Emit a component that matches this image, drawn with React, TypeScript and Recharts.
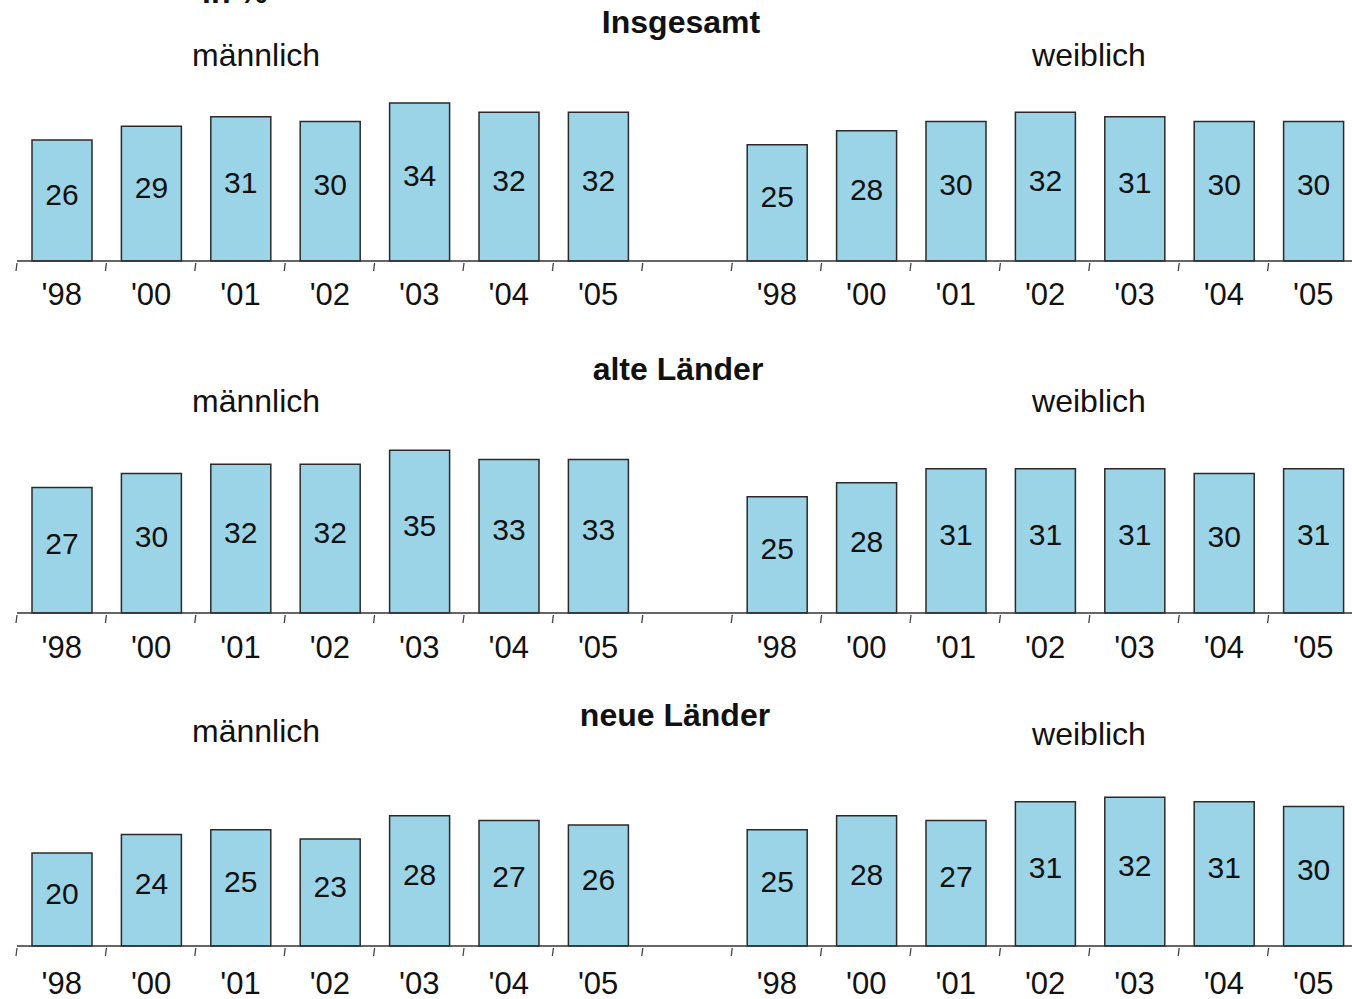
import { BarChart, Bar, XAxis, YAxis, LabelList } from 'recharts';

const years = ["'98", "'00", "'01", "'02", "'03", "'04", "'05"];

const insgesamtMaennlich = [26, 29, 31, 30, 34, 32, 32];
const insgesamtWeiblich = [25, 28, 30, 32, 31, 30, 30];
const alteMaennlich = [27, 30, 32, 32, 35, 33, 33];
const alteWeiblich = [25, 28, 31, 31, 31, 30, 31];
const neueMaennlich = [20, 24, 25, 23, 28, 27, 26];
const neueWeiblich = [25, 28, 27, 31, 32, 31, 30];

const FONT = '"Liberation Sans", Arial, sans-serif';
const CHART_W = 1360;
const MARGIN_L = 17;
const MARGIN_R = 2;
const SLOTS = 15;
const BAND = (CHART_W - MARGIN_L - MARGIN_R) / SLOTS;

// 7 male years, an empty slot, 7 female years
const buildRows = (m: number[], w: number[]) => [
    ...years.map((y, i) => ({ slot: `m${i}`, year: y, value: m[i] })),
    { slot: 'gap', year: '', value: null },
    ...years.map((y, i) => ({ slot: `w${i}`, year: y, value: w[i] })),
];

const yearOf = (slot: string) => {
    if (slot === 'gap') return '';
    return years[Number(slot.slice(1))];
};

const makeTick = (labelDy: number) => (props: any) => {
    const { x, y, payload } = props;
    const left = x - BAND / 2;
    return (
        <g>
            <line x1={left} x2={left - 1} y1={y + 2} y2={y + 10} stroke="#444" strokeWidth={1.3} />
            <text x={x} y={y + labelDy} textAnchor="middle" fontSize={31} fontFamily={FONT} fill="#111">
                {yearOf(payload.value)}
            </text>
        </g>
    );
};

const valueLabel = (props: any) => {
    const { x, y, width, height, value } = props;
    if (value == null) return null;
    return (
        <text
            x={x + width / 2}
            y={y + height / 2 + 4}
            textAnchor="middle"
            fontSize={30}
            fontFamily={FONT}
            fill="#111">
            {value}
        </text>
    );
};

const panels = [
    { top: 0, m: insgesamtMaennlich, w: insgesamtWeiblich, labelDy: 44 },
    { top: 352, m: alteMaennlich, w: alteWeiblich, labelDy: 45 },
    { top: 685, m: neueMaennlich, w: neueWeiblich, labelDy: 48 },
];

const Panel = ({ top, m, w, labelDy }: { top: number; m: number[]; w: number[]; labelDy: number }) => (
    <div style={{ position: 'absolute', left: 0, top }}>
        <BarChart
            width={CHART_W}
            height={321}
            data={buildRows(m, w)}
            margin={{ top: 75, right: MARGIN_R, bottom: 0, left: MARGIN_L }}>
            <XAxis
                dataKey="slot"
                height={60}
                interval={0}
                tickLine={false}
                tickSize={0}
                tickMargin={0}
                axisLine={{ stroke: '#333', strokeWidth: 1.5 }}
                tick={makeTick(labelDy)}
            />
            <YAxis hide domain={[0, 40]} />
            <Bar dataKey="value" fill="#9bd4e6" stroke="#2a2a2a" strokeWidth={1.5} barSize={60} isAnimationActive={false}>
                <LabelList dataKey="value" content={valueLabel} />
            </Bar>
        </BarChart>
    </div>
);

const App = () => {
    return (
        <div
            style={{
                position: 'absolute',
                left: 0,
                top: 0,
                width: 1352,
                height: 999,
                overflow: 'hidden',
                background: 'white',
                fontFamily: FONT,
            }}>
            {panels.map((p, i) => (
                <Panel key={i} {...p} />
            ))}
            <svg width={1352} height={999} style={{ position: 'absolute', left: 0, top: 0, pointerEvents: 'none' }}>
                <g fontFamily={FONT} fill="#111" fontSize={32}>
                    <text x={202} y={3} fontWeight="bold">in %</text>

                    <text x={681} y={33} textAnchor="middle" fontWeight="bold">Insgesamt</text>
                    <text x={256} y={66} textAnchor="middle">männlich</text>
                    <text x={1089} y={66} textAnchor="middle">weiblich</text>

                    <text x={678} y={380} textAnchor="middle" fontWeight="bold">alte Länder</text>
                    <text x={256} y={412} textAnchor="middle">männlich</text>
                    <text x={1089} y={412} textAnchor="middle">weiblich</text>

                    <text x={675} y={726} textAnchor="middle" fontWeight="bold">neue Länder</text>
                    <text x={256} y={742} textAnchor="middle">männlich</text>
                    <text x={1089} y={745} textAnchor="middle">weiblich</text>
                </g>
            </svg>
        </div>
    );
};

export default App;
